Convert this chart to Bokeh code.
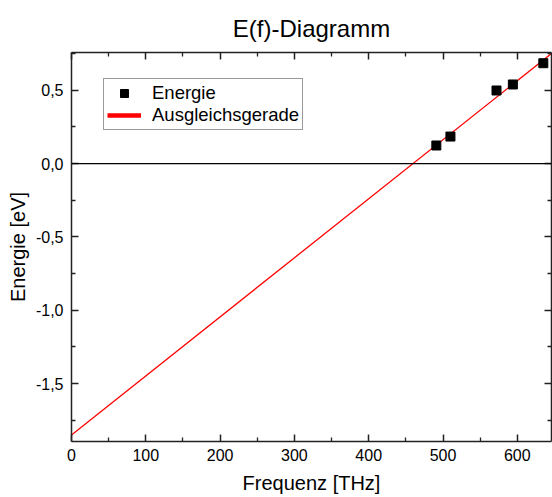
import numpy as np
from bokeh.plotting import figure
from bokeh.models import (Range1d, LinearAxis, FixedTicker, Span, Legend,
                          LegendItem, ColumnDataSource)
from bokeh.embed import file_html
from bokeh.resources import INLINE

# ---- data ----
freq_thz = [491, 510, 572, 594, 635]
energy_ev = [0.123, 0.184, 0.498, 0.539, 0.684]

x_min, x_max = 0, 646
y_min, y_max = -1.895, 0.757

x_major = [0, 100, 200, 300, 400, 500, 600]
x_minor = [50, 150, 250, 350, 450, 550]
y_major = [-1.5, -1.0, -0.5, 0.0, 0.5]
y_major_labels = ["-1,5", "-1,0", "-0,5", "0,0", "0,5"]
y_minor = [-1.75, -1.25, -0.75, -0.25, 0.25, 0.75]
zero_level = 0.0

# regression line (Ausgleichsgerade) from the data
slope, intercept = np.polyfit(freq_thz, energy_ev, 1)
line_x = np.array([x_min, x_max], dtype=float)
line_y = slope * line_x + intercept

FONT = "Liberation Sans"

p = figure(width=552, height=497,
           x_range=Range1d(x_min, x_max), y_range=Range1d(y_min, y_max),
           output_backend="svg", toolbar_location=None,
           x_axis_label="Frequenz [THz]", y_axis_label="Energie [eV]",
           min_border_left=71, min_border_right=1,
           min_border_top=52, min_border_bottom=56)

p.title.text = "E(f)-Diagramm"
p.title.align = "center"
p.title.text_font = FONT
p.title.text_font_size = "24px"
p.title.text_font_style = "normal"
p.title.text_color = "black"
p.title.standoff = 22
p.title.offset = 7

p.xgrid.visible = False
p.ygrid.visible = False
p.outline_line_color = None
p.background_fill_color = "white"
p.border_fill_color = "white"


def style_axis(ax, major, minor, show_labels=True):
    ax.ticker = FixedTicker(ticks=major, minor_ticks=minor)
    ax.axis_line_color = "#222222"
    ax.axis_line_width = 1.5
    ax.major_tick_line_color = "#222222"
    ax.minor_tick_line_color = "#222222"
    ax.major_tick_line_width = 1.5
    ax.minor_tick_line_width = 1.3
    ax.major_tick_in = 7
    ax.major_tick_out = 0
    ax.minor_tick_in = 4
    ax.minor_tick_out = 0
    ax.major_label_text_font = FONT
    ax.major_label_text_color = "black"
    ax.axis_label_text_font = FONT
    ax.axis_label_text_font_style = "normal"
    ax.axis_label_text_color = "black"
    if not show_labels:
        ax.major_label_overrides = {t: "" for t in major}
        ax.major_label_text_font_size = "0px"
        ax.major_label_standoff = 0
        ax.axis_label = None
        ax.axis_label_standoff = 0
        ax.axis_label_text_font_size = "0px"


xa = p.xaxis[0]
style_axis(xa, x_major, x_minor)
xa.major_label_text_font_size = "16px"
xa.major_label_standoff = 7
xa.axis_label_text_font_size = "20px"
xa.axis_label_standoff = 8

ya = p.yaxis[0]
style_axis(ya, y_major, y_minor)
ya.major_label_overrides = dict(zip(y_major, y_major_labels))
ya.major_label_text_font_size = "16px"
ya.major_label_standoff = 8
ya.axis_label_text_font_size = "20px"
ya.axis_label_standoff = 4

top_ax = LinearAxis()
style_axis(top_ax, x_major, x_minor, show_labels=False)
p.add_layout(top_ax, "above")

right_ax = LinearAxis()
style_axis(right_ax, y_major, y_minor, show_labels=False)
p.add_layout(right_ax, "right")

# zero line
p.add_layout(Span(location=zero_level, dimension="width",
                  line_color="black", line_width=1.3))

# regression line
p.line(line_x, line_y, line_color="#ff0000", line_width=1.3)

# data points
sq = p.scatter(freq_thz, energy_ev, marker="square", size=9,
               fill_color="black", line_color="black")

# legend proxy for a thicker red line (not visible in the plot area)
proxy = p.line(x="x", y="y",
               source=ColumnDataSource(data=dict(x=[np.nan, np.nan],
                                                 y=[np.nan, np.nan])),
               line_color="#ff0000", line_width=4.5)

legend = Legend(items=[LegendItem(label="Energie", renderers=[sq]),
                       LegendItem(label="Ausgleichsgerade", renderers=[proxy])],
                location=(32, 311), margin=0, padding=3, spacing=0,
                glyph_width=34, glyph_height=20, label_height=20,
                label_standoff=11,
                label_text_font=FONT, label_text_font_size="18.5px",
                label_text_color="black",
                border_line_color="#333333", border_line_width=1.2,
                background_fill_color="white", background_fill_alpha=1.0)
p.add_layout(legend)

open("out.html", "w").write(file_html(p, INLINE))
